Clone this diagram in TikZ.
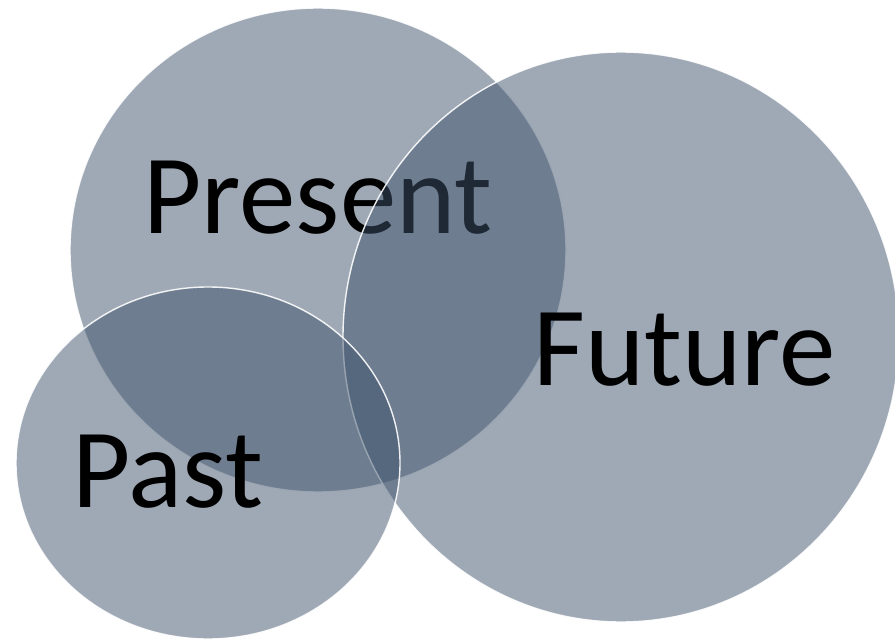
\documentclass[tikz,border=0pt]{standalone}
\usepackage{fontspec}
\setmainfont{Carlito}
\usetikzlibrary{shapes.geometric}
\definecolor{bub}{RGB}{63,83,108}
\tikzset{
  bubble/.style={ellipse, draw=white, line width=1.4pt, fill=bub, fill opacity=0.5, draw opacity=0.9, inner sep=0},
  lbl/.style={anchor=base west, inner sep=0, text=black, font=\fontsize{113}{113}\selectfont}
}
\begin{document}
\begin{tikzpicture}[x=1pt,y=-1pt]
\useasboundingbox (0,0) rectangle (895,639);
\node[bubble, minimum width=496pt, minimum height=484pt] (present) at (318,250) {};
\node[lbl] (presentlbl) at (143,234) {Present};
\node[bubble, minimum width=556pt, minimum height=570pt] (future) at (621,337) {};
\node[lbl] (futurelbl) at (533,385) {Future};
\node[bubble, minimum width=384pt, minimum height=352pt] (past) at (208,463) {};
\node[lbl] (pastlbl) at (72,507) {Past};
\end{tikzpicture}
\end{document}
